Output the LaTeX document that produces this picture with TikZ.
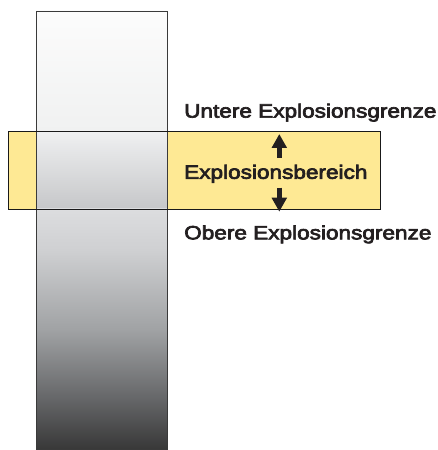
\documentclass[tikz,border=0pt]{standalone}
\usepackage{fontspec}
\setmainfont{Liberation Sans}
\newfontfamily\labfont{Liberation Sans}[FakeStretch=1.17, FakeBold=3.5]
\usetikzlibrary{arrows.meta}
\definecolor{bandyellow}{HTML}{FEE994}
\definecolor{txt}{HTML}{231F20}
\definecolor{edge}{HTML}{3A3A3A}
\definecolor{cTop}{HTML}{FCFCFC}
\definecolor{cUpBot}{HTML}{F0F1F1}
\definecolor{cBandTop}{HTML}{EFF0F1}
\definecolor{cBandBot}{HTML}{C6C7C9}
\definecolor{cA}{HTML}{DCDDDF}
\definecolor{cB}{HTML}{CFD0D2}
\definecolor{cC}{HTML}{A0A2A4}
\definecolor{cD}{HTML}{646567}
\definecolor{cE}{HTML}{383838}
\pgfdeclareverticalshading{lowcol}{100bp}{color(0bp)=(cE); color(25bp)=(cE); color(35.2bp)=(cD); color(49.8bp)=(cC); color(66.5bp)=(cB); color(75bp)=(cA); color(100bp)=(cA)}
\tikzset{
  lab/.style={anchor=base west, inner sep=0pt, text=txt, font=\labfont\fontsize{19.3}{22}\selectfont},
  bigarrow/.style={draw=txt, line width=4.6pt, -{Triangle[length=14pt,width=14.5pt]}},
  coledge/.style={draw=edge, line width=0.9pt},
  bandedge/.style={draw=black!90, line width=0.9pt}
}
\begin{document}
\begin{tikzpicture}[x=1pt,y=1pt]
\useasboundingbox[fill=white] (0,0) rectangle (438,450);
% band fill
\fill[bandyellow] (8.5,241) rectangle (380,318.3);
% column segments
\shade[top color=cTop, bottom color=cUpBot] (36,318.3) rectangle (167,439);
\shade[top color=cBandTop, bottom color=cBandBot] (36,241) rectangle (167,318.3);
\shade[shading=lowcol] (36,1) rectangle (167,241);
% outlines
\draw[coledge] (36,1) rectangle (167,439);
\draw[bandedge] (8.5,241) rectangle (380,318.3);
% labels
\node[lab] (ueg) at (184,332.4) {Untere Explosionsgrenze};
\node[lab] (eb) at (184,271.2) {Explosionsbereich};
\node[lab] (oeg) at (184,210.6) {Obere Explosionsgrenze};
% arrows
\coordinate (upBase) at (279.3,292);
\coordinate (upTip) at (279.3,316);
\coordinate (dnBase) at (279.3,262.3);
\coordinate (dnTip) at (279.3,238.3);
\draw[bigarrow] (upBase) -- (upTip);
\draw[bigarrow] (dnBase) -- (dnTip);
\end{tikzpicture}
\end{document}
